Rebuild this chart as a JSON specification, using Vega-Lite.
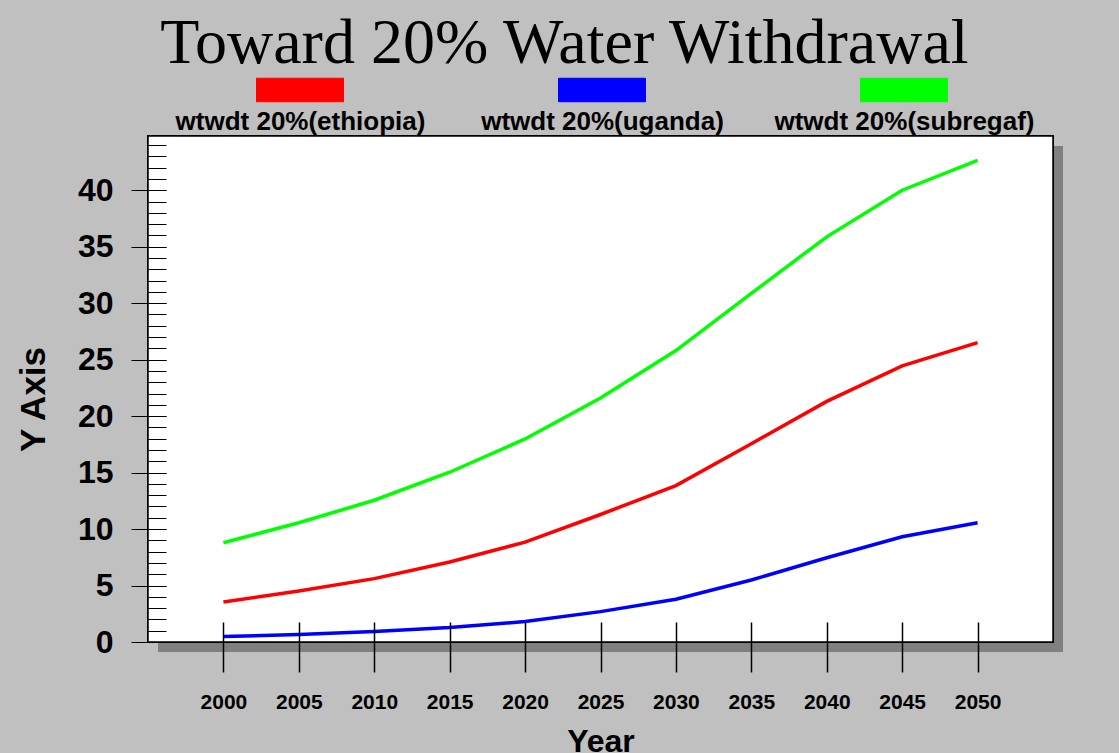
{
  "$schema": "https://vega.github.io/schema/vega-lite/v6.json",
  "width": 905,
  "height": 506,
  "autosize": {"type": "none"},
  "padding": {"left": 148, "top": 136, "right": 66, "bottom": 111},
  "background": "#c0c0c0",
  "title": {
    "text": "Toward 20% Water Withdrawal",
    "font": "Liberation Serif",
    "fontSize": 64,
    "fontWeight": "normal",
    "color": "#000000",
    "anchor": "middle",
    "frame": "group",
    "baseline": "alphabetic",
    "dx": -36,
    "offset": -81
  },
  "config": {
    "view": {"stroke": null},
    "axis": {"grid": false, "domain": false, "tickColor": "#000000", "labelColor": "#000000", "titleColor": "#000000", "zindex": 1}
  },
  "data": {
    "values": [
      {"year": 2000, "series": "wtwdt 20%(ethiopia)", "value": 3.54},
      {"year": 2005, "series": "wtwdt 20%(ethiopia)", "value": 4.51},
      {"year": 2010, "series": "wtwdt 20%(ethiopia)", "value": 5.61},
      {"year": 2015, "series": "wtwdt 20%(ethiopia)", "value": 7.08},
      {"year": 2020, "series": "wtwdt 20%(ethiopia)", "value": 8.84},
      {"year": 2025, "series": "wtwdt 20%(ethiopia)", "value": 11.29},
      {"year": 2030, "series": "wtwdt 20%(ethiopia)", "value": 13.85},
      {"year": 2035, "series": "wtwdt 20%(ethiopia)", "value": 17.56},
      {"year": 2040, "series": "wtwdt 20%(ethiopia)", "value": 21.3},
      {"year": 2045, "series": "wtwdt 20%(ethiopia)", "value": 24.45},
      {"year": 2050, "series": "wtwdt 20%(ethiopia)", "value": 26.51},
      {"year": 2000, "series": "wtwdt 20%(uganda)", "value": 0.49},
      {"year": 2005, "series": "wtwdt 20%(uganda)", "value": 0.66},
      {"year": 2010, "series": "wtwdt 20%(uganda)", "value": 0.93},
      {"year": 2015, "series": "wtwdt 20%(uganda)", "value": 1.28},
      {"year": 2020, "series": "wtwdt 20%(uganda)", "value": 1.81},
      {"year": 2025, "series": "wtwdt 20%(uganda)", "value": 2.69},
      {"year": 2030, "series": "wtwdt 20%(uganda)", "value": 3.78},
      {"year": 2035, "series": "wtwdt 20%(uganda)", "value": 5.49},
      {"year": 2040, "series": "wtwdt 20%(uganda)", "value": 7.46},
      {"year": 2045, "series": "wtwdt 20%(uganda)", "value": 9.32},
      {"year": 2050, "series": "wtwdt 20%(uganda)", "value": 10.56},
      {"year": 2000, "series": "wtwdt 20%(subregaf)", "value": 8.79},
      {"year": 2005, "series": "wtwdt 20%(subregaf)", "value": 10.56},
      {"year": 2010, "series": "wtwdt 20%(subregaf)", "value": 12.55},
      {"year": 2015, "series": "wtwdt 20%(subregaf)", "value": 15.03},
      {"year": 2020, "series": "wtwdt 20%(subregaf)", "value": 17.98},
      {"year": 2025, "series": "wtwdt 20%(subregaf)", "value": 21.6},
      {"year": 2030, "series": "wtwdt 20%(subregaf)", "value": 25.8},
      {"year": 2035, "series": "wtwdt 20%(subregaf)", "value": 30.87},
      {"year": 2040, "series": "wtwdt 20%(subregaf)", "value": 35.87},
      {"year": 2045, "series": "wtwdt 20%(subregaf)", "value": 40.0},
      {"year": 2050, "series": "wtwdt 20%(subregaf)", "value": 42.65}
    ]
  },
  "resolve": {"axis": {"x": "independent", "y": "independent"}},
  "layer": [
    {
      "mark": {"type": "rect", "fill": "#808080", "xOffset": 10, "x2Offset": 10, "yOffset": 10, "y2Offset": 10},
      "encoding": {
        "x": {"datum": 1995, "type": "quantitative", "scale": {"domain": [1995, 2055], "nice": false, "zero": false}, "axis": null},
        "x2": {"datum": 2055},
        "y": {"datum": 0, "type": "quantitative", "scale": {"domain": [0, 44.8], "nice": false, "zero": false}, "axis": null},
        "y2": {"datum": 44.8}
      }
    },
    {
      "mark": {"type": "rect", "fill": "#ffffff", "stroke": "#000000", "strokeWidth": 1.5},
      "encoding": {
        "x": {"datum": 1995, "type": "quantitative", "axis": null},
        "x2": {"datum": 2055},
        "y": {"datum": 0, "type": "quantitative", "axis": {"orient": "left", "zindex": 1, "offset": -18, "tickSize": 18, "tickWidth": 1, "values": [0,1,2,3,4,5,6,7,8,9,10,11,12,13,14,15,16,17,18,19,20,21,22,23,24,25,26,27,28,29,30,31,32,33,34,35,36,37,38,39,40,41,42,43,44], "labels": false, "title": null}},
        "y2": {"datum": 44.8}
      }
    },
    {
      "mark": {"type": "line", "strokeWidth": 3.5},
      "encoding": {
        "x": {
          "field": "year", "type": "quantitative",
          "axis": {
            "orient": "bottom", "zindex": 1, "offset": -20, "tickSize": 50, "tickWidth": 1.5,
            "values": [2000, 2005, 2010, 2015, 2020, 2025, 2030, 2035, 2040, 2045, 2050],
            "format": "d", "labelFont": "Liberation Sans", "labelFontWeight": "bold", "labelFontSize": 21, "labelPadding": 19,
            "title": "Year", "titleFont": "Liberation Sans", "titleFontWeight": "bold", "titleFontSize": 32,
            "titleBaseline": "alphabetic", "titleY": 129
          }
        },
        "y": {
          "field": "value", "type": "quantitative",
          "axis": {
            "orient": "left", "zindex": 1, "offset": -18, "tickSize": 35, "tickWidth": 1.2,
            "values": [0, 5, 10, 15, 20, 25, 30, 35, 40],
            "labelFont": "Liberation Sans", "labelFontWeight": "bold", "labelFontSize": 32, "labelPadding": 18,
            "title": "Y Axis", "titleFont": "Liberation Sans", "titleFontWeight": "bold", "titleFontSize": 35,
            "titleAngle": -90, "titleAlign": "center", "titleBaseline": "middle", "titleX": -133, "titleY": 263
          }
        },
        "color": {
          "field": "series", "type": "nominal",
          "scale": {"domain": ["wtwdt 20%(ethiopia)", "wtwdt 20%(uganda)", "wtwdt 20%(subregaf)"], "range": ["#ff0000", "#0000ff", "#00ff00"]},
          "legend": {
            "orient": "none", "legendX": 108, "legendY": -90, "direction": "horizontal", "columns": 3,
            "title": null, "symbolType": "M-1,-0.27H1V0.27H-1Z", "symbolSize": 7569,
            "labelFont": "Liberation Sans", "labelFontWeight": "bold", "labelFontSize": 26, "labelColor": "#000000",
            "labelLimit": 500, "labelOffset": 0, "columnPadding": 41, "gridAlign": "all",
            "encode": {
              "symbols": {"update": {"fill": {"scale": "color", "field": "value"}, "stroke": {"value": "#333333"}, "strokeWidth": {"value": 1}, "opacity": {"value": 1}}},
              "labels": {"update": {"align": {"value": "center"}, "dx": {"value": -43.5}, "dy": {"value": 32}}}
            }
          }
        }
      }
    }
  ]
}
